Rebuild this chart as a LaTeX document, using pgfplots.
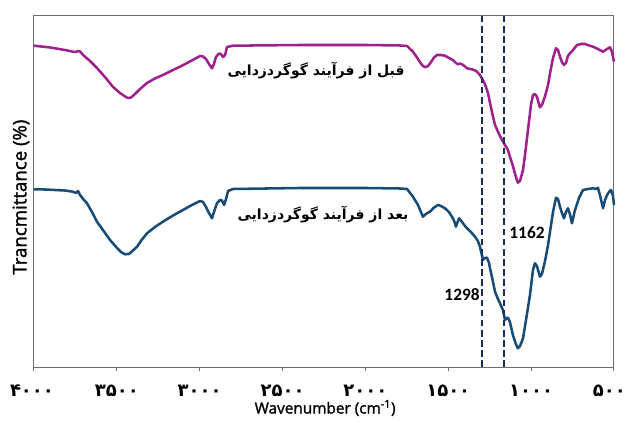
\documentclass[border=0pt]{standalone}
\usepackage{fontspec}
\usepackage{pgfplots}
\pgfplotsset{compat=1.18}
\TeXXeTstate=1
\setmainfont{Carlito}
\newfontfamily\arabicfont[Script=Arabic]{DejaVu Sans}
\newfontfamily\osans[FakeBold=1.5]{Open Sans}
\definecolor{cpurple}{RGB}{158,34,142}
\definecolor{cblue}{RGB}{24,76,116}
\definecolor{cdash}{RGB}{30,45,95}
\definecolor{cframe}{RGB}{110,110,110}
\begin{document}
\begin{tikzpicture}
\begin{axis}[
  scale only axis, width=435pt, height=263.25pt,
  x dir=reverse, xmin=500, xmax=4000, ymin=0, ymax=351,
  xtick={4000,3500,3000,2500,2000,1500,1000,500},
  xticklabels={\hspace*{-3pt}۴۰۰۰,۳۵۰۰,۳۰۰۰,۲۵۰۰,۲۰۰۰,۱۵۰۰,۱۰۰۰,۵۰۰\hspace*{7pt}},
  xticklabel style={font=\arabicfont\bfseries\fontsize{13.5}{15}\selectfont, yshift=-7pt},
  ytick=\empty,
  tick align=outside, major tick length=3pt,
  xtick pos=bottom,
  axis line style={cframe, line width=0.75pt},
  tick style={cframe, line width=0.75pt},
  xlabel={Wavenumber (cm\textsuperscript{-1})},
  xlabel style={font=\osans\fontsize{11.5}{13}\selectfont, at={(axis description cs:0.502,0)}, anchor=center, yshift=-30.75pt},
  ylabel={Trancmittance (\%)},
  ylabel style={font=\osans\fontsize{14}{16}\selectfont, at={(axis description cs:0,0.484)}, anchor=center, yshift=9.75pt},
  clip=false,
]
\addplot[cpurple, line width=1.9pt, line join=round] coordinates {
(4000,321.3) (3903,319.5) (3813,317) (3765,315.3) (3747,315) (3734,316) (3722,315.5) (3704,312) (3662,306) (3620,299) (3572,290) (3523,280) (3481,274) (3439,269.3) (3421,269) (3403,271) (3360,278) (3318,284) (3270,288.5) (3222,292) (3167,296.5) (3119,300.3) (3059,305.5) (2998,311) (2980,310.5) (2962,308) (2944,303) (2926,298.7) (2914,303) (2902,310) (2884,313.5) (2872,313) (2859,310) (2847,312) (2835,320) (2799,321.3) (2395,322) (1997,322) (1791,321.5) (1749,321) (1713,315.3) (1683,308) (1659,302) (1641,299.7) (1622,301) (1604,305) (1586,309.5) (1568,312) (1544,312) (1520,311.3) (1496,309) (1472,307) (1454,304) (1441,302.7) (1429,303.5) (1417,302.7) (1399,300.5) (1387,298.7) (1369,298) (1357,297.7) (1339,296.5) (1327,295.3) (1309,292) (1297,288.7) (1279,283) (1260,273.7) (1248,264) (1230,250.3) (1218,242) (1200,235.3) (1182,229) (1158,222) (1140,217) (1128,210.3) (1110,201) (1098,193.7) (1086,187) (1080,184.3) (1067,186) (1049,197) (1037,212) (1019,237) (1001,262) (989,272) (977,273) (965,270.3) (953,263) (947,259.7) (935,262) (917,270.3) (898,282) (886,293.7) (868,309) (850,318.7) (838,317) (826,310.3) (814,305) (802,302) (790,304) (778,311) (766,313.7) (747,317) (723,322) (699,323) (675,323) (651,321.5) (627,320.3) (597,318) (566,315.3) (542,318) (524,319.7) (512,315) (500,305.3)
};
\addplot[cblue, line width=1.9pt, line join=round] coordinates {
(4000,177.7) (3934,177.5) (3873,177) (3813,176.5) (3765,175.3) (3747,174) (3734,176) (3722,172) (3698,167) (3680,163.7) (3650,155) (3620,145.3) (3584,137) (3541,127) (3499,119) (3475,115) (3451,112.7) (3427,113) (3403,116.5) (3378,120.3) (3348,127.5) (3318,133.7) (3270,140) (3222,145.3) (3161,151.5) (3101,157) (3047,162) (2998,166) (2980,165) (2962,160) (2944,154) (2926,148.7) (2914,155) (2896,163.7) (2878,167) (2866,166.5) (2853,162) (2841,168) (2829,176) (2799,178) (2395,179) (1997,179) (1791,178.5) (1749,178) (1713,170.3) (1683,162) (1665,155) (1653,150.3) (1635,153) (1611,155.3) (1586,159.5) (1562,162) (1544,161) (1520,158.7) (1496,155) (1472,148.7) (1460,144) (1454,140.3) (1441,146) (1435,148.7) (1417,145) (1399,141) (1387,138.7) (1363,135) (1339,130.3) (1321,126) (1309,120.3) (1297,112) (1291,107) (1279,109) (1266,109.3) (1254,104) (1248,98.7) (1230,85) (1218,75.3) (1200,68) (1188,63.7) (1170,57) (1158,47) (1146,49) (1140,49.3) (1128,45) (1110,32) (1092,23) (1080,18.7) (1067,21) (1049,28.7) (1031,47) (1007,72) (989,97) (977,103.7) (965,101) (947,90.3) (935,93) (917,105.3) (898,122) (886,135.3) (868,155) (850,169.3) (838,168) (826,160.3) (814,154) (802,148.7) (790,155) (778,158.7) (766,153) (754,143.7) (741,153) (735,157) (711,169) (687,177) (657,178) (627,178.7) (609,178) (597,179.3) (585,172) (566,158.7) (554,167) (542,172) (530,175) (518,177) (506,171) (500,162)
};
\addplot[cdash, line width=1.2pt, dash pattern=on 5pt off 2.6pt] coordinates {(1298,0) (1298,351)};
\addplot[cdash, line width=1.2pt, dash pattern=on 5pt off 2.6pt] coordinates {(1162,0) (1162,351)};
\node[font=\arabicfont\bfseries\fontsize{10.5}{12}\selectfont] at (axis cs:2298,296) {\beginR قبل از فرآیند گوگردزدایی\endR};
\node[font=\arabicfont\bfseries\fontsize{10.5}{12}\selectfont] at (axis cs:2256,152) {\beginR بعد از فرآیند گوگردزدایی\endR};
\node[font=\bfseries\fontsize{13}{15}\selectfont] at (axis cs:1417,72) {1298};
\node[font=\bfseries\fontsize{13}{15}\selectfont] at (axis cs:1025,134) {1162};
\end{axis}
\pgfresetboundingbox
\path (-25.5pt,-42.75pt) rectangle (444.75pt,275.25pt);
\end{tikzpicture}
\end{document}
